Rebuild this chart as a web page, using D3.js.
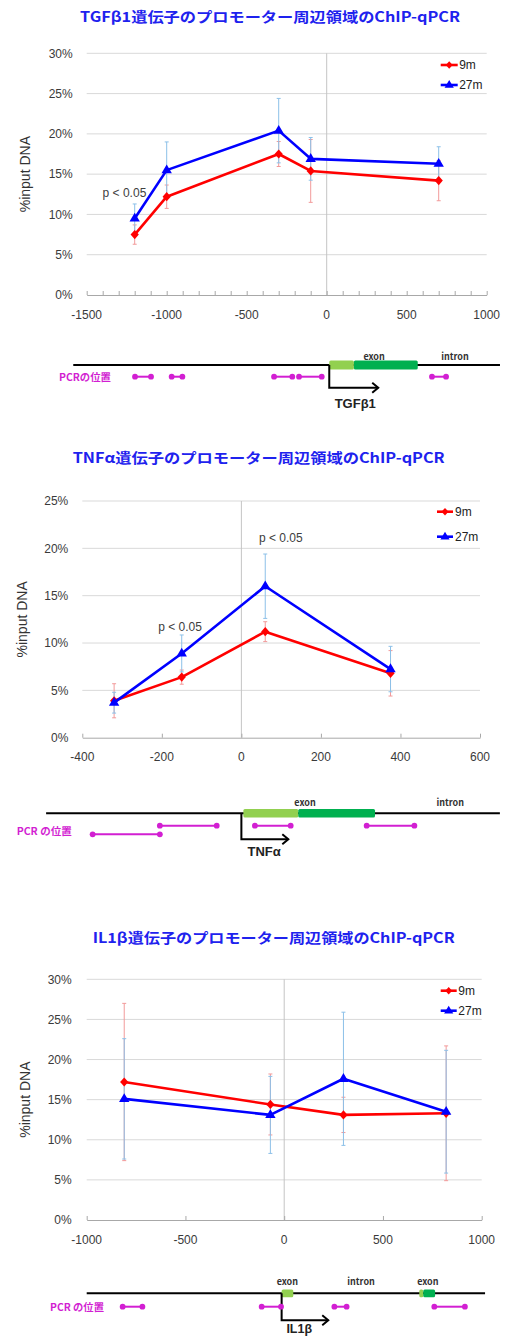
<!DOCTYPE html>
<html><head><meta charset="utf-8">
<script src="https://cdn.jsdelivr.net/npm/d3@7"></script>
<style>body{margin:0;background:#fff} svg{display:block}</style>
</head><body>
<svg id="c" width="505" height="1336"></svg>
<script>
// ---------- DATA ----------
// TGFβ1
const tgfTitle = "TGFβ1遺伝子のプロモーター周辺領域のChIP-qPCR";
const tgfPositions = [-1200, -1000, -300, -100, 700];
const tgf9m = [7.5, 12.2, 17.5, 15.4, 14.2];
const tgf9mErr = [1.2, 1.45, 1.55, 3.9, 2.5];
const tgf27m = [9.5, 15.5, 20.4, 16.9, 16.3];
const tgf27mErr = [1.8, 3.5, 4.0, 2.65, 2.1];
const tgfXTicks = [-1500, -1000, -500, 0, 500, 1000];
const tgfYTicks = [0, 5, 10, 15, 20, 25, 30];
const tgfPValues = [{x: -1264, y: 12.7, text: "p < 0.05"}];
const tgfGeneLine = [-1584, 1083];
const tgfExons = [{s: 16, e: 170, c: "light"}, {s: 170, e: 569, c: "dark"}];
const tgfPcr = [[-1198, -1098, 0], [-969, -902, 0], [-329, -215, 0], [-173, -31, 0], [658, 746, 0]];
const tgfTss = [16, 322];
const tgfGeneLabels = [{x: 296, t: "exon"}, {x: 802, t: "intron"}];
const tgfGeneName = "TGFβ1";

// TNFα
const tnfTitle = "TNFα遺伝子のプロモーター周辺領域のChIP-qPCR";
const tnfPositions = [-320, -150, 60, 375];
const tnf9m = [3.9, 6.4, 11.2, 6.8];
const tnf9mErr = [1.8, 0.75, 1.05, 2.4];
const tnf27m = [3.7, 8.9, 16.0, 7.25];
const tnf27mErr = [1.1, 1.95, 3.4, 2.4];
const tnfXTicks = [-400, -200, 0, 200, 400, 600];
const tnfYTicks = [0, 5, 10, 15, 20, 25];
const tnfPValues = [{x: -154, y: 11.7, text: "p < 0.05"}, {x: 99, y: 21.1, text: "p < 0.05"}];
const tnfGeneLine = [-491, 650];
const tnfExons = [{s: 5, e: 143, c: "light"}, {s: 143, e: 336, c: "dark"}];
const tnfPcr = [[-205, -62, 0], [34, 124, 0], [315, 435, 0], [-374, -205, 1]];
const tnfTss = [0, 118];
const tnfGeneLabels = [{x: 160, t: "exon"}, {x: 525, t: "intron"}];
const tnfGeneName = "TNFα";

// IL1β
const ilTitle = "IL1β遺伝子のプロモーター周辺領域のChIP-qPCR";
const ilPositions = [-810, -70, 300, 820];
const il9m = [17.2, 14.4, 13.1, 13.3];
const il9mErr = [9.8, 3.8, 2.2, 8.4];
const il27m = [15.1, 13.1, 17.6, 13.5];
const il27mErr = [7.5, 4.8, 8.3, 7.65];
const ilXTicks = [-1000, -500, 0, 500, 1000];
const ilYTicks = [0, 5, 10, 15, 20, 25, 30];
const ilPValues = [];
const ilGeneLine = [-1000, 1017];
const ilExons = [{s: -13, e: 46, c: "light"}, {s: 684, e: 704, c: "light"}, {s: 704, e: 764, c: "dark"}];
const ilPcr = [[-818, -718, 0], [-114, -16, 0], [254, 316, 0], [760, 915, 0]];
const ilTss = [-13, 223];
const ilGeneLabels = [{x: 16, t: "exon"}, {x: 389, t: "intron"}, {x: 727, t: "exon"}];
const ilGeneName = "IL1β";

const seriesNames = ["9m", "27m"];

// ---------- STYLE ----------
const RED = "#ff0000", BLUE = "#0000ff";
const RED_ERR = "#f29a9a", BLUE_ERR = "#8cc0e8";
const EXON_COL = {light: "#92d050", dark: "#00b050"};
const MAGENTA = "#d21fd2";
const TITLE_COL = "#1e22ee";
const SANS = "'Liberation Sans', Arial, Helvetica, sans-serif";
const CJK = "'Noto Sans CJK JP', 'Noto Sans', sans-serif";

const svg = d3.select("#c");
const diamond = s => `M0,${-s}L${s*0.9},0L0,${s}L${-s*0.9},0Z`;
const triangle = s => `M0,${-s*1.1}L${s},${s*0.6}L${-s},${s*0.6}Z`;

function drawChart(cfg) {
  const g = svg.append("g");
  const b = cfg.box;
  const x = d3.scaleLinear().domain(cfg.xDomain).range([b.l, b.r]);
  const y = d3.scaleLinear().domain([0, cfg.yMax]).range([b.b, b.t]);

  // title
  g.append("text").attr("x", cfg.title.x).attr("y", cfg.title.y)
    .attr("textLength", cfg.title.len).attr("lengthAdjust", "spacingAndGlyphs")
    .attr("font-family", CJK).attr("font-weight", "bold").attr("font-size", 14)
    .attr("fill", TITLE_COL).text(cfg.title.text);

  // gridlines
  g.selectAll(".grid").data(cfg.yTicks.filter(d => d > 0)).join("line")
    .attr("x1", b.l).attr("x2", b.r).attr("y1", d => y(d)).attr("y2", d => y(d))
    .attr("stroke", "#d9d9d9").attr("stroke-width", 1);
  // zero vertical axis
  g.append("line").attr("x1", x(0)).attr("x2", x(0)).attr("y1", b.t).attr("y2", b.b)
    .attr("stroke", "#c4c4c4").attr("stroke-width", 1);
  // x axis
  const xAxis = d3.axisBottom(x).tickValues(d3.range(cfg.xDomain[0], cfg.xDomain[1] + 1, cfg.minorStep))
    .tickSizeInner(-4).tickSizeOuter(0).tickFormat("");
  const ax = g.append("g").attr("transform", `translate(0,${b.b})`).call(xAxis);
  ax.select(".domain").attr("stroke", "#a8a8a8");
  ax.selectAll(".tick line").attr("stroke", "#a8a8a8");

  // tick labels
  g.selectAll(".xl").data(cfg.xTicks).join("text")
    .attr("x", d => x(d)).attr("y", b.b + 19.5).attr("dy", "0.35em")
    .attr("text-anchor", "middle").attr("font-family", SANS).attr("font-size", 12)
    .attr("fill", "#3a3a3a").text(d => d);
  g.selectAll(".yl").data(cfg.yTicks).join("text")
    .attr("x", b.l - cfg.yLabelGap).attr("y", d => y(d)).attr("dy", "0.35em")
    .attr("text-anchor", "end").attr("font-family", SANS).attr("font-size", 12)
    .attr("fill", "#3a3a3a").text(d => d + "%");
  g.append("text").attr("transform", `translate(${cfg.yTitleX},${(b.t + b.b) / 2}) rotate(-90)`)
    .attr("text-anchor", "middle").attr("dy", "0.35em").attr("font-family", SANS)
    .attr("font-size", 14).attr("fill", "#333").text("%input DNA");

  // error bars
  cfg.series.forEach(s => {
    const eg = g.append("g").attr("stroke", s.errColor).attr("stroke-width", 1);
    cfg.positions.forEach((p, i) => {
      const px = x(p), lo = y(s.values[i] - s.err[i]), hi = y(s.values[i] + s.err[i]);
      eg.append("line").attr("x1", px).attr("x2", px).attr("y1", lo).attr("y2", hi);
      eg.append("line").attr("x1", px - 2).attr("x2", px + 2).attr("y1", lo).attr("y2", lo);
      eg.append("line").attr("x1", px - 2).attr("x2", px + 2).attr("y1", hi).attr("y2", hi);
    });
  });
  // lines + markers
  const line = d3.line().x(d => x(d[0])).y(d => y(d[1]));
  cfg.series.forEach(s => {
    const pts = cfg.positions.map((p, i) => [p, s.values[i]]);
    g.append("path").attr("d", line(pts)).attr("fill", "none")
      .attr("stroke", s.color).attr("stroke-width", 2.6).attr("stroke-linejoin", "round");
    g.selectAll(null).data(pts).join("path")
      .attr("transform", d => `translate(${x(d[0])},${y(d[1])})`)
      .attr("d", s.marker === "diamond" ? diamond(4.6) : triangle(5.2))
      .attr("fill", s.color);
  });

  // legend
  const L = cfg.legend;
  cfg.series.forEach((s, i) => {
    const ly = L.ys[i];
    g.append("line").attr("x1", b.r - L.x1).attr("x2", b.r - L.x2).attr("y1", ly).attr("y2", ly)
      .attr("stroke", s.color).attr("stroke-width", 2.6);
    g.append("path").attr("transform", `translate(${b.r - (L.x1 + L.x2) / 2},${ly})`)
      .attr("d", s.marker === "diamond" ? diamond(3.8) : triangle(4.6)).attr("fill", s.color);
    g.append("text").attr("x", b.r - L.tx).attr("y", ly).attr("dy", "0.35em")
      .attr("font-family", SANS).attr("font-size", 12).attr("fill", "#222").text(seriesNames[i]);
  });

  // p-value annotations
  g.selectAll(".pv").data(cfg.pvalues).join("text")
    .attr("x", d => x(d.x)).attr("y", d => y(d.y)).attr("dy", "0.35em")
    .attr("text-anchor", "middle").attr("font-family", SANS).attr("font-size", 12)
    .attr("fill", "#404040").text(d => d.text);

  // gene diagram
  const D = cfg.diagram;
  const dg = svg.append("g");
  dg.append("line").attr("x1", x(D.line[0])).attr("x2", x(D.line[1]))
    .attr("y1", D.y).attr("y2", D.y).attr("stroke", "#000").attr("stroke-width", 2);
  dg.selectAll(".ex").data(D.exons).join("rect")
    .attr("x", d => x(d.s)).attr("width", d => x(d.e) - x(d.s))
    .attr("y", D.y - D.exonH / 2).attr("height", D.exonH).attr("rx", 1.5)
    .attr("fill", d => EXON_COL[d.c]);
  dg.selectAll(".gl").data(D.labels).join("text")
    .attr("x", d => x(d.x)).attr("y", D.y + D.labelDy).attr("dy", "0.35em")
    .attr("text-anchor", "middle").attr("font-family", CJK).attr("font-weight", "bold")
    .attr("font-size", 9).attr("fill", "#333").text(d => d.t);
  // arrow
  const ax0 = x(D.tss[0]), ax1 = x(D.tss[1]), ay = D.y + D.arrowDrop;
  dg.append("path").attr("d", `M${ax0},${D.y}V${ay}H${ax1}`).attr("fill", "none")
    .attr("stroke", "#000").attr("stroke-width", 2);
  dg.append("path").attr("d", `M${ax1 - 6},${ay - 5}L${ax1},${ay}L${ax1 - 6},${ay + 5}`)
    .attr("fill", "none").attr("stroke", "#000").attr("stroke-width", 2);
  dg.append("text").attr("x", ax0 + D.nameDx).attr("y", D.y + D.nameDy).attr("dy", "0.35em")
    .attr("text-anchor", "middle").attr("font-family", SANS).attr("font-weight", "bold")
    .attr("font-size", D.nameSize || 13).attr("fill", "#222").text(D.name);
  // PCR positions
  D.pcr.forEach(p => {
    const py = D.y + D.rows[p[2]];
    dg.append("line").attr("x1", x(p[0])).attr("x2", x(p[1])).attr("y1", py).attr("y2", py)
      .attr("stroke", MAGENTA).attr("stroke-width", 2);
    [p[0], p[1]].forEach(v => dg.append("circle").attr("cx", x(v)).attr("cy", py).attr("r", 2.9).attr("fill", MAGENTA));
  });
  dg.append("text").attr("x", D.pcrLabel.x).attr("y", D.y + D.pcrLabel.dy).attr("dy", "0.35em")
    .attr("textLength", D.pcrLabel.len).attr("lengthAdjust", "spacingAndGlyphs")
    .attr("font-family", CJK).attr("font-weight", "bold").attr("font-size", 10)
    .attr("fill", MAGENTA).text(D.pcrLabel.text);
}

const mkSeries = (v9, e9, v27, e27) => [
  {values: v9, err: e9, color: RED, errColor: RED_ERR, marker: "diamond"},
  {values: v27, err: e27, color: BLUE, errColor: BLUE_ERR, marker: "triangle"}
];

drawChart({
  title: {text: tgfTitle, x: 80, y: 21.5, len: 380},
  box: {l: 86.7, r: 486.7, t: 53.3, b: 295},
  xDomain: [-1500, 1000], xTicks: tgfXTicks, minorStep: 100,
  yMax: 30, yTicks: tgfYTicks, yLabelGap: 14, yTitleX: 25,
  positions: tgfPositions, series: mkSeries(tgf9m, tgf9mErr, tgf27m, tgf27mErr),
  legend: {x1: 46, x2: 29, tx: 27.5, ys: [65, 85]},
  pvalues: tgfPValues,
  diagram: {y: 365, line: tgfGeneLine, exons: tgfExons, exonH: 9, labels: tgfGeneLabels, labelDy: -8.5,
    tss: tgfTss, arrowDrop: 22.7, name: tgfGeneName, nameDx: 26, nameDy: 38,
    pcr: tgfPcr, rows: [11.7], pcrLabel: {text: "PCRの位置", x: 59, dy: 12.7, len: 52}}
});

drawChart({
  title: {text: tnfTitle, x: 72.7, y: 463.3, len: 372},
  box: {l: 82.3, r: 480, t: 501, b: 737.7},
  xDomain: [-400, 600], xTicks: tnfXTicks, minorStep: 200,
  yMax: 25, yTicks: tnfYTicks, yLabelGap: 14, yTitleX: 21.7,
  positions: tnfPositions, series: mkSeries(tnf9m, tnf9mErr, tnf27m, tnf27mErr),
  legend: {x1: 43, x2: 27, tx: 25, ys: [511.7, 536.7]},
  pvalues: tnfPValues,
  diagram: {y: 813.3, line: tnfGeneLine, exons: tnfExons, exonH: 8.4, labels: tnfGeneLabels, labelDy: -10.6,
    tss: tnfTss, arrowDrop: 26, name: tnfGeneName, nameDx: 22.7, nameDy: 38.4,
    pcr: tnfPcr, rows: [12.4, 21], pcrLabel: {text: "PCR の位置", x: 16.7, dy: 17.7, len: 55}}
});

drawChart({
  title: {text: ilTitle, x: 92.7, y: 943.3, len: 362},
  box: {l: 86.7, r: 481.7, t: 979.3, b: 1220},
  xDomain: [-1000, 1000], xTicks: ilXTicks, minorStep: 500,
  yMax: 30, yTicks: ilYTicks, yLabelGap: 15, yTitleX: 25,
  positions: ilPositions, series: mkSeries(il9m, il9mErr, il27m, il27mErr),
  legend: {x1: 41, x2: 25, tx: 23.4, ys: [990.7, 1010.7]},
  pvalues: ilPValues,
  diagram: {y: 1293.3, line: ilGeneLine, exons: ilExons, exonH: 7.7, labels: ilGeneLabels, labelDy: -11.3,
    tss: ilTss, arrowDrop: 27, name: ilGeneName, nameDx: 17.6, nameDy: 35, nameSize: 12.5,
    pcr: ilPcr, rows: [13.4], pcrLabel: {text: "PCR の位置", x: 50, dy: 13.7, len: 54}}
});
</script>
</body></html>
